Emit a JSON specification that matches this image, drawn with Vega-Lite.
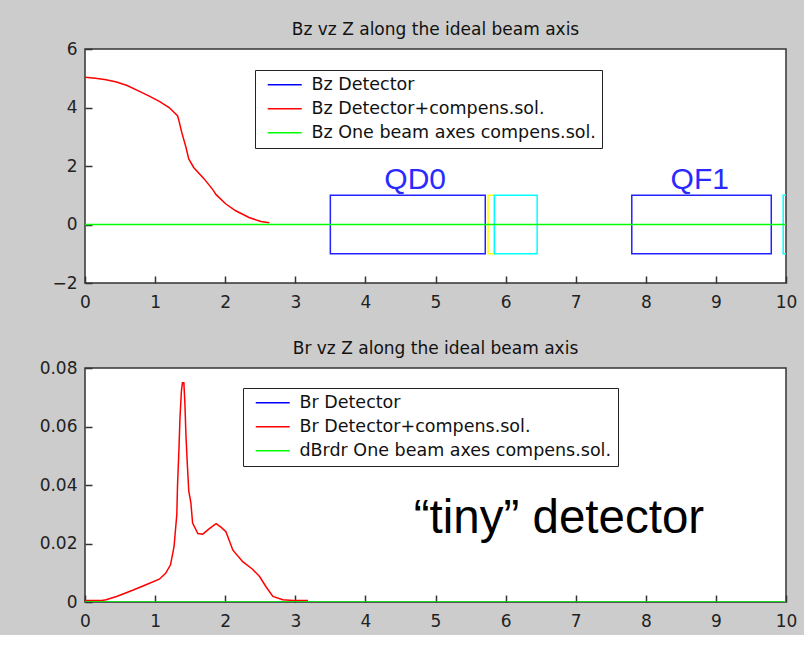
{
  "$schema": "https://vega.github.io/schema/vega-lite/v6.json",
  "background": "#cccccc",
  "padding": {"left": 38, "top": 20, "right": 10, "bottom": 5},
  "spacing": 28,
  "config": {
    "font": "DejaVu Sans",
    "view": {"fill": "white", "stroke": "#333333", "strokeWidth": 1.5},
    "axis": {
      "domain": false, "offset": -7, "zindex": 1, "ticks": true,
      "tickColor": "#333333", "tickWidth": 1.5, "tickSize": 7, "tickOpacity": 1,
      "labelColor": "#222222", "labelFont": "DejaVu Sans", "labelFontSize": 17,
      "labelFlush": false, "labelOverlap": false,
      "grid": false, "title": null
    },
    "axisX": {"labelPadding": 11},
    "axisY": {"labelPadding": 8},
    "title": {"font": "DejaVu Sans", "fontSize": 17, "fontWeight": "normal", "color": "#111111", "offset": 1},
    "legend": {
      "orient": "none", "strokeColor": "#222222", "fillColor": "white", "padding": 6,
      "symbolType": "M-4,0H4", "symbolSize": 72.25, "symbolStrokeWidth": 1.5,
      "symbolOffset": 15, "labelOffset": 18, "labelLimit": 500,
      "labelFont": "DejaVu Sans", "labelFontSize": 17.5, "labelColor": "#111111",
      "rowPadding": 5, "title": null, "zindex": 2
    }
  },
  "datasets": {
    "bz": [
      {"z": 0, "b": 5.03, "series": "Bz Detector+compens.sol."},
      {"z": 0.15, "b": 5.0, "series": "Bz Detector+compens.sol."},
      {"z": 0.3, "b": 4.95, "series": "Bz Detector+compens.sol."},
      {"z": 0.45, "b": 4.87, "series": "Bz Detector+compens.sol."},
      {"z": 0.6, "b": 4.75, "series": "Bz Detector+compens.sol."},
      {"z": 0.77, "b": 4.56, "series": "Bz Detector+compens.sol."},
      {"z": 0.91, "b": 4.4, "series": "Bz Detector+compens.sol."},
      {"z": 1.06, "b": 4.21, "series": "Bz Detector+compens.sol."},
      {"z": 1.2, "b": 4.0, "series": "Bz Detector+compens.sol."},
      {"z": 1.32, "b": 3.72, "series": "Bz Detector+compens.sol."},
      {"z": 1.34, "b": 3.55, "series": "Bz Detector+compens.sol."},
      {"z": 1.38, "b": 3.15, "series": "Bz Detector+compens.sol."},
      {"z": 1.44, "b": 2.64, "series": "Bz Detector+compens.sol."},
      {"z": 1.48, "b": 2.24, "series": "Bz Detector+compens.sol."},
      {"z": 1.55, "b": 1.95, "series": "Bz Detector+compens.sol."},
      {"z": 1.7, "b": 1.56, "series": "Bz Detector+compens.sol."},
      {"z": 1.82, "b": 1.2, "series": "Bz Detector+compens.sol."},
      {"z": 1.87, "b": 1.02, "series": "Bz Detector+compens.sol."},
      {"z": 2.01, "b": 0.7, "series": "Bz Detector+compens.sol."},
      {"z": 2.15, "b": 0.47, "series": "Bz Detector+compens.sol."},
      {"z": 2.34, "b": 0.24, "series": "Bz Detector+compens.sol."},
      {"z": 2.51, "b": 0.1, "series": "Bz Detector+compens.sol."},
      {"z": 2.63, "b": 0.06, "series": "Bz Detector+compens.sol."},
      {"z": 0, "b": 0, "series": "Bz One beam axes compens.sol."},
      {"z": 10, "b": 0, "series": "Bz One beam axes compens.sol."}
    ],
    "magnets": [
      {"kind": "quadrupole", "z1": 3.5, "z2": 5.71, "b1": -1, "b2": 1},
      {"kind": "corrector", "z1": 5.75, "z2": 5.84, "b1": -1, "b2": 1},
      {"kind": "sextupole", "z1": 5.84, "z2": 6.45, "b1": -1, "b2": 1},
      {"kind": "quadrupole", "z1": 7.8, "z2": 9.79, "b1": -1, "b2": 1},
      {"kind": "sextupole", "z1": 9.96, "z2": 10.6, "b1": -1, "b2": 1}
    ],
    "labels": [
      {"label": "QD0", "z": 4.71, "b": 1.21},
      {"label": "QF1", "z": 8.77, "b": 1.21}
    ],
    "br": [
      {"z": 0, "b": 0.0005, "series": "Br Detector+compens.sol."},
      {"z": 0.24, "b": 0.0005, "series": "Br Detector+compens.sol."},
      {"z": 0.3, "b": 0.0008, "series": "Br Detector+compens.sol."},
      {"z": 0.45, "b": 0.0019, "series": "Br Detector+compens.sol."},
      {"z": 0.68, "b": 0.004, "series": "Br Detector+compens.sol."},
      {"z": 0.87, "b": 0.0059, "series": "Br Detector+compens.sol."},
      {"z": 1.06, "b": 0.0078, "series": "Br Detector+compens.sol."},
      {"z": 1.15, "b": 0.0098, "series": "Br Detector+compens.sol."},
      {"z": 1.22, "b": 0.0127, "series": "Br Detector+compens.sol."},
      {"z": 1.27, "b": 0.0189, "series": "Br Detector+compens.sol."},
      {"z": 1.31, "b": 0.03, "series": "Br Detector+compens.sol."},
      {"z": 1.32, "b": 0.04, "series": "Br Detector+compens.sol."},
      {"z": 1.34, "b": 0.052, "series": "Br Detector+compens.sol."},
      {"z": 1.355, "b": 0.063, "series": "Br Detector+compens.sol."},
      {"z": 1.375, "b": 0.072, "series": "Br Detector+compens.sol."},
      {"z": 1.39, "b": 0.075, "series": "Br Detector+compens.sol."},
      {"z": 1.41, "b": 0.075, "series": "Br Detector+compens.sol."},
      {"z": 1.425, "b": 0.068, "series": "Br Detector+compens.sol."},
      {"z": 1.44, "b": 0.057, "series": "Br Detector+compens.sol."},
      {"z": 1.46, "b": 0.047, "series": "Br Detector+compens.sol."},
      {"z": 1.48, "b": 0.038, "series": "Br Detector+compens.sol."},
      {"z": 1.51, "b": 0.034, "series": "Br Detector+compens.sol."},
      {"z": 1.535, "b": 0.027, "series": "Br Detector+compens.sol."},
      {"z": 1.61, "b": 0.0234, "series": "Br Detector+compens.sol."},
      {"z": 1.68, "b": 0.0232, "series": "Br Detector+compens.sol."},
      {"z": 1.77, "b": 0.025, "series": "Br Detector+compens.sol."},
      {"z": 1.87, "b": 0.0268, "series": "Br Detector+compens.sol."},
      {"z": 1.94, "b": 0.0256, "series": "Br Detector+compens.sol."},
      {"z": 2.01, "b": 0.024, "series": "Br Detector+compens.sol."},
      {"z": 2.11, "b": 0.0177, "series": "Br Detector+compens.sol."},
      {"z": 2.25, "b": 0.0138, "series": "Br Detector+compens.sol."},
      {"z": 2.39, "b": 0.0112, "series": "Br Detector+compens.sol."},
      {"z": 2.49, "b": 0.0087, "series": "Br Detector+compens.sol."},
      {"z": 2.58, "b": 0.0053, "series": "Br Detector+compens.sol."},
      {"z": 2.68, "b": 0.0019, "series": "Br Detector+compens.sol."},
      {"z": 2.82, "b": 0.0008, "series": "Br Detector+compens.sol."},
      {"z": 2.97, "b": 0.0005, "series": "Br Detector+compens.sol."},
      {"z": 3.18, "b": 0.0005, "series": "Br Detector+compens.sol."},
      {"z": 0, "b": 0, "series": "dBrdr One beam axes compens.sol."},
      {"z": 10, "b": 0, "series": "dBrdr One beam axes compens.sol."}
    ],
    "notes": [
      {"label": "“tiny” detector", "z": 4.69, "b": 0.0237}
    ]
  },
  "vconcat": [
    {
      "title": "Bz vz Z along the ideal beam axis",
      "width": 701,
      "height": 234,
      "layer": [
        {
          "data": {"name": "magnets"},
          "mark": {"type": "rect", "fill": null, "fillOpacity": 0, "strokeWidth": 1.5, "clip": true},
          "encoding": {
            "x": {"field": "z1", "type": "quantitative", "scale": {"domain": [0, 10], "nice": false, "zero": false},
                  "axis": {"values": [0,1,2,3,4,5,6,7,8,9,10], "format": "d", "ticks": true}},
            "x2": {"field": "z2"},
            "y": {"field": "b1", "type": "quantitative", "scale": {"domain": [-2, 6], "nice": false, "zero": false},
                  "axis": {"values": [-2, 0, 2, 4, 6], "format": "d", "ticks": true}},
            "y2": {"field": "b2"},
            "stroke": {"field": "kind", "type": "nominal", "legend": null,
                       "scale": {"domain": ["quadrupole", "corrector", "sextupole"], "range": ["#2222ff", "#ffff00", "#00ffff"]}}
          }
        },
        {
          "data": {"name": "bz"},
          "mark": {"type": "line", "strokeWidth": 1.5, "clip": true},
          "encoding": {
            "x": {"field": "z", "type": "quantitative"},
            "y": {"field": "b", "type": "quantitative"},
            "color": {"field": "series", "type": "nominal",
                      "scale": {"domain": ["Bz Detector", "Bz Detector+compens.sol.", "Bz One beam axes compens.sol."], "range": ["#0000ff", "#ff0000", "#00ff00"]},
                      "legend": {"legendX": 170, "legendY": 21}}
          }
        },
        {
          "data": {"name": "labels"},
          "mark": {"type": "text", "font": "Liberation Sans", "fontSize": 30, "color": "#2a2aff", "align": "center", "baseline": "alphabetic"},
          "encoding": {
            "x": {"field": "z", "type": "quantitative"},
            "y": {"field": "b", "type": "quantitative"},
            "text": {"field": "label"}
          }
        }
      ]
    },
    {
      "title": "Br vz Z along the ideal beam axis",
      "width": 701,
      "height": 234,
      "layer": [
        {
          "data": {"name": "br"},
          "mark": {"type": "line", "strokeWidth": 1.5, "clip": true},
          "encoding": {
            "x": {"field": "z", "type": "quantitative", "scale": {"domain": [0, 10], "nice": false, "zero": false},
                  "axis": {"values": [0,1,2,3,4,5,6,7,8,9,10], "format": "d", "ticks": true}},
            "y": {"field": "b", "type": "quantitative", "scale": {"domain": [0, 0.08], "nice": false},
                  "axis": {"values": [0, 0.02, 0.04, 0.06, 0.08], "ticks": true, "labelExpr": "datum.value == 0 ? '0' : format(datum.value, '.2f')"}},
            "color": {"field": "series", "type": "nominal",
                      "scale": {"domain": ["Br Detector", "Br Detector+compens.sol.", "dBrdr One beam axes compens.sol."], "range": ["#0000ff", "#ff0000", "#00ff00"]},
                      "legend": {"legendX": 158, "legendY": 20}}
          }
        },
        {
          "data": {"name": "notes"},
          "mark": {"type": "text", "font": "Liberation Sans", "fontSize": 47.5, "color": "#000000", "align": "left", "baseline": "alphabetic"},
          "encoding": {
            "x": {"field": "z", "type": "quantitative"},
            "y": {"field": "b", "type": "quantitative"},
            "text": {"field": "label"}
          }
        }
      ]
    }
  ],
  "resolve": {"scale": {"color": "independent"}, "legend": {"color": "independent"}}
}
